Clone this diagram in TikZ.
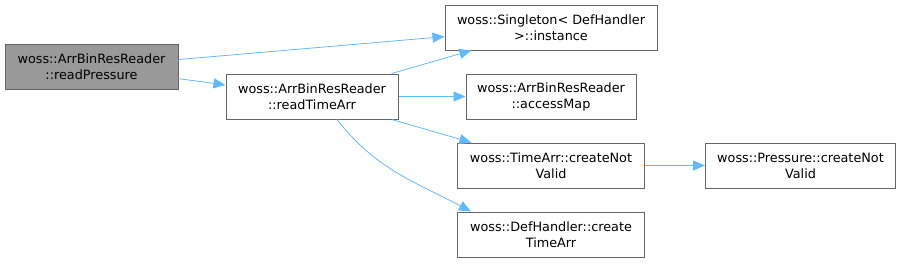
\documentclass[tikz,border=0pt]{standalone}
\usepackage{fontspec}
\setmainfont{DejaVu Sans}
\usetikzlibrary{arrows.meta, positioning}
\definecolor{edgecolor}{RGB}{99,184,255}
\definecolor{framecolor}{RGB}{102,102,102}
\definecolor{rootfill}{RGB}{153,153,153}
\tikzset{
  box/.style     = {draw=framecolor, fill=white, line width=1pt, align=center,
                    minimum height=45pt, inner sep=2pt,
                    font=\fontsize{12.8}{16}\selectfont},
  rootbox/.style = {box, fill=rootfill},
  arrow/.style   = {-{Triangle[length=12pt, width=10pt]}, line width=0.8pt, color=edgecolor},
}

\begin{document}
\begin{tikzpicture}[x=1pt, y=1pt]
  \useasboundingbox (0,0) rectangle (902,-263);
  \node[rootbox, minimum width=173pt] (rp) at (91.5,-67) {woss::ArrBinResReader\\::readPressure};
  \node[box, minimum width=172pt, right=47pt of rp, yshift=-29.5pt] (rt) {woss::ArrBinResReader\\::readTimeArr};
  \node[box, minimum width=170pt, right=67pt of rt] (am) {woss::ArrBinResReader\\::accessMap};
  \node[box, minimum width=212pt, above=23pt of am] (sg) {woss::Singleton< DefHandler\\>::instance};
  \node[box, minimum width=187pt, below=23pt of am] (tc) {woss::TimeArr::createNot\\Valid};
  \node[box, minimum width=187pt, below=23pt of tc] (dh) {woss::DefHandler::create\\TimeArr};
  \node[box, minimum width=190pt, right=60pt of tc] (pr) {woss::Pressure::createNot\\Valid};
  \draw[arrow] (rp) -- (sg);
  \draw[arrow] (rp) -- (rt);
  \draw[arrow] (rt) -- (sg);
  \draw[arrow] (rt) -- (am);
  \draw[arrow] (rt) -- (tc);
  \draw[arrow] ([xshift=25pt]rt.south) to[out=-52, in=152] ([xshift=14pt]dh.north west);
  \draw[arrow] (tc) -- (pr);
\end{tikzpicture}
\end{document}
